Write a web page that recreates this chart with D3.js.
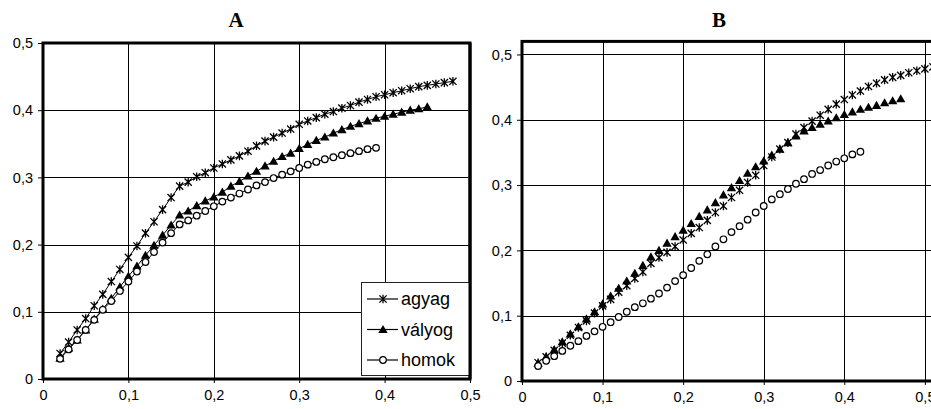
<!DOCTYPE html>
<html>
<head>
<meta charset="utf-8">
<style>
 body { margin: 0; background: #ffffff; }
 svg { display: block; }
 .tick text { font-family: "Liberation Sans", Arial, sans-serif; font-size: 14.5px; fill: #000; }
 .axis path { display: none; }
 .axis line { stroke: #000; }
 .grid line { stroke: #000; stroke-width: 1; }
 .title { font-family: "Liberation Serif", "Times New Roman", serif; font-weight: bold; font-size: 21px; }
 .legend text { font-family: "Liberation Sans", Arial, sans-serif; font-size: 18px; }
</style>
<script src="https://d3js.org/d3.v7.min.js"></script>
</head>
<body>
<svg id="chart" width="931" height="409"></svg>
<script>
// shared x values (0.02 step 0.01)
var xSteps = [0.02, 0.03, 0.04, 0.05, 0.06, 0.07, 0.08, 0.09, 0.10, 0.11,
              0.12, 0.13, 0.14, 0.15, 0.16, 0.17, 0.18, 0.19, 0.20, 0.21,
              0.22, 0.23, 0.24, 0.25, 0.26, 0.27, 0.28, 0.29, 0.30, 0.31,
              0.32, 0.33, 0.34, 0.35, 0.36, 0.37, 0.38, 0.39, 0.40, 0.41,
              0.42, 0.43, 0.44, 0.45, 0.46, 0.47, 0.48, 0.49, 0.50, 0.51];

var seriesNames = ["agyag", "vályog", "homok"];

// panel A
var agyagA = [0.038, 0.055, 0.073, 0.090, 0.109, 0.126, 0.145, 0.163, 0.181, 0.198,
              0.217, 0.234, 0.252, 0.270, 0.287, 0.293, 0.301, 0.307, 0.314, 0.320,
              0.326, 0.332, 0.339, 0.347, 0.354, 0.360, 0.366, 0.372, 0.379, 0.384,
              0.389, 0.394, 0.398, 0.403, 0.407, 0.412, 0.416, 0.420, 0.423, 0.426,
              0.429, 0.432, 0.435, 0.437, 0.439, 0.441, 0.443];
var valyogA = [0.031, 0.046, 0.058, 0.073, 0.089, 0.104, 0.120, 0.137, 0.153, 0.168,
               0.184, 0.199, 0.214, 0.229, 0.244, 0.250, 0.258, 0.265, 0.271, 0.278,
               0.287, 0.294, 0.302, 0.309, 0.317, 0.324, 0.331, 0.336, 0.343, 0.349,
               0.355, 0.360, 0.366, 0.371, 0.376, 0.380, 0.384, 0.388, 0.391, 0.394,
               0.397, 0.400, 0.402, 0.405];
var homokA = [0.030, 0.044, 0.058, 0.073, 0.088, 0.103, 0.116, 0.131, 0.145, 0.160,
              0.174, 0.189, 0.203, 0.217, 0.230, 0.236, 0.243, 0.250, 0.257, 0.264,
              0.270, 0.276, 0.282, 0.288, 0.293, 0.299, 0.304, 0.309, 0.314, 0.319,
              0.323, 0.327, 0.330, 0.333, 0.336, 0.339, 0.342, 0.344];

// panel B
var agyagB = [0.028, 0.037, 0.047, 0.058, 0.070, 0.082, 0.092, 0.104, 0.115, 0.125,
              0.136, 0.146, 0.157, 0.167, 0.180, 0.189, 0.197, 0.206, 0.216, 0.226,
              0.235, 0.246, 0.258, 0.268, 0.281, 0.292, 0.304, 0.315, 0.330, 0.343,
              0.355, 0.365, 0.378, 0.388, 0.398, 0.407, 0.416, 0.424, 0.431, 0.438,
              0.444, 0.451, 0.456, 0.461, 0.465, 0.468, 0.472, 0.475, 0.478, 0.481];
var valyogB = [0.027, 0.037, 0.048, 0.060, 0.072, 0.083, 0.095, 0.106, 0.118, 0.130,
               0.142, 0.153, 0.165, 0.177, 0.190, 0.200, 0.211, 0.221, 0.231, 0.241,
               0.252, 0.262, 0.273, 0.285, 0.296, 0.307, 0.318, 0.328, 0.337, 0.346,
               0.355, 0.365, 0.375, 0.383, 0.388, 0.393, 0.398, 0.403, 0.408, 0.412,
               0.416, 0.419, 0.422, 0.426, 0.429, 0.432];
var homokB = [0.023, 0.031, 0.038, 0.046, 0.054, 0.061, 0.069, 0.076, 0.083, 0.090,
              0.098, 0.106, 0.113, 0.119, 0.126, 0.134, 0.143, 0.153, 0.162, 0.173,
              0.184, 0.194, 0.206, 0.217, 0.228, 0.237, 0.247, 0.258, 0.268, 0.278,
              0.286, 0.294, 0.302, 0.309, 0.317, 0.323, 0.330, 0.336, 0.341, 0.347,
              0.351];

var tickValues = [0, 0.1, 0.2, 0.3, 0.4, 0.5];

var svg = d3.select("#chart");
var fmt = function(d) { return d === 0 ? "0" : d3.format(".1f")(d).replace(".", ","); };

var starPath = "M-3.6,-3.6L3.6,3.6M-3.6,3.6L3.6,-3.6M0,-4.3L0,4.3";
var triPath = d3.symbol().type(d3.symbolTriangle).size(38)();

function drawMarker(sel, kind) {
    if (kind === 0) {
        sel.append("path").attr("d", starPath)
           .attr("stroke", "#000").attr("stroke-width", 1.3).attr("fill", "none");
    } else if (kind === 1) {
        sel.append("path").attr("d", triPath).attr("transform", "translate(0,0.8)")
           .attr("fill", "#000");
    } else {
        sel.append("circle").attr("r", 3.3)
           .attr("fill", "#fff").attr("stroke", "#000").attr("stroke-width", 1.2);
    }
}

function panel(cfg) {
    var x = d3.scaleLinear().domain(cfg.xDomain).range(cfg.xRange);
    var y = d3.scaleLinear().domain(cfg.yDomain).range(cfg.yRange);
    var g = svg.append("g");

    // grid
    var grid = g.append("g").attr("class", "grid");
    grid.selectAll(".gx").data(tickValues.slice(1)).enter().append("line")
        .attr("x1", function(d) { return Math.round(x(d)) + 0.5; })
        .attr("x2", function(d) { return Math.round(x(d)) + 0.5; })
        .attr("y1", y.range()[0]).attr("y2", y.range()[1]);
    grid.selectAll(".gy").data(tickValues.slice(1)).enter().append("line")
        .attr("y1", function(d) { return Math.round(y(d)) + 0.5; })
        .attr("y2", function(d) { return Math.round(y(d)) + 0.5; })
        .attr("x1", x.range()[0]).attr("x2", x.range()[1]);

    // axes
    g.append("g").attr("class", "axis")
     .attr("transform", "translate(0," + y.range()[0] + ")")
     .call(d3.axisBottom(x).tickValues(tickValues).tickFormat(fmt).tickSize(4).tickPadding(7));
    g.append("g").attr("class", "axis")
     .attr("transform", "translate(" + x.range()[0] + ",0)")
     .call(d3.axisLeft(y).tickValues(tickValues).tickFormat(fmt).tickSize(5).tickPadding(5));

    // frame
    g.append("rect")
     .attr("x", x.range()[0]).attr("y", y.range()[1])
     .attr("width", x.range()[1] - x.range()[0])
     .attr("height", y.range()[0] - y.range()[1])
     .attr("fill", "none").attr("stroke", "#000").attr("stroke-width", 3);

    // series
    cfg.series.forEach(function(vals, k) {
        var pts = vals.map(function(v, i) { return [xSteps[i], v]; });
        if (cfg.lines) {
            g.append("path").datum(pts)
             .attr("fill", "none").attr("stroke", "#000").attr("stroke-width", 1)
             .attr("d", d3.line().x(function(d) { return x(d[0]); }).y(function(d) { return y(d[1]); }));
        }
        var m = g.append("g").selectAll("g").data(pts).enter().append("g")
                 .attr("transform", function(d) { return "translate(" + x(d[0]) + "," + y(d[1]) + ")"; });
        drawMarker(m, k);
    });

    g.append("text").attr("class", "title")
     .attr("x", cfg.titleX).attr("y", 27).attr("text-anchor", "middle")
     .text(cfg.title);

    return {x: x, y: y, g: g};
}

var A = panel({
    title: "A", titleX: 236,
    xDomain: [0, 0.5], xRange: [43, 470],
    yDomain: [0, 0.5], yRange: [379, 43],
    series: [agyagA, valyogA, homokA], lines: true
});

panel({
    title: "B", titleX: 719,
    xDomain: [0, 0.52], xRange: [522, 941],
    yDomain: [0, 0.52], yRange: [381, 41.4],
    series: [agyagB, valyogB, homokB], lines: false
});

// legend in panel A
var lg = A.g.append("g").attr("class", "legend");
lg.append("rect").attr("x", 361.5).attr("y", 282.5).attr("width", 108).attr("height", 93)
  .attr("fill", "#fff").attr("stroke", "#222").attr("stroke-width", 1);
var rows = lg.selectAll(".row").data(seriesNames).enter().append("g")
  .attr("transform", function(d, i) { return "translate(0," + (299 + i * 30.5) + ")"; });
rows.append("line").attr("x1", 367).attr("x2", 398).attr("stroke", "#000").attr("stroke-width", 1.2);
rows.each(function(d, i) {
    var m = d3.select(this).append("g").attr("transform", "translate(383,0)");
    drawMarker(m, i);
});
rows.append("text").attr("x", 401).attr("y", 6).text(function(d) { return d; });

// re-draw A frame right edge over legend
A.g.append("line").attr("x1", 470).attr("x2", 470).attr("y1", 43).attr("y2", 379)
   .attr("stroke", "#000").attr("stroke-width", 3);
</script>
</body>
</html>
